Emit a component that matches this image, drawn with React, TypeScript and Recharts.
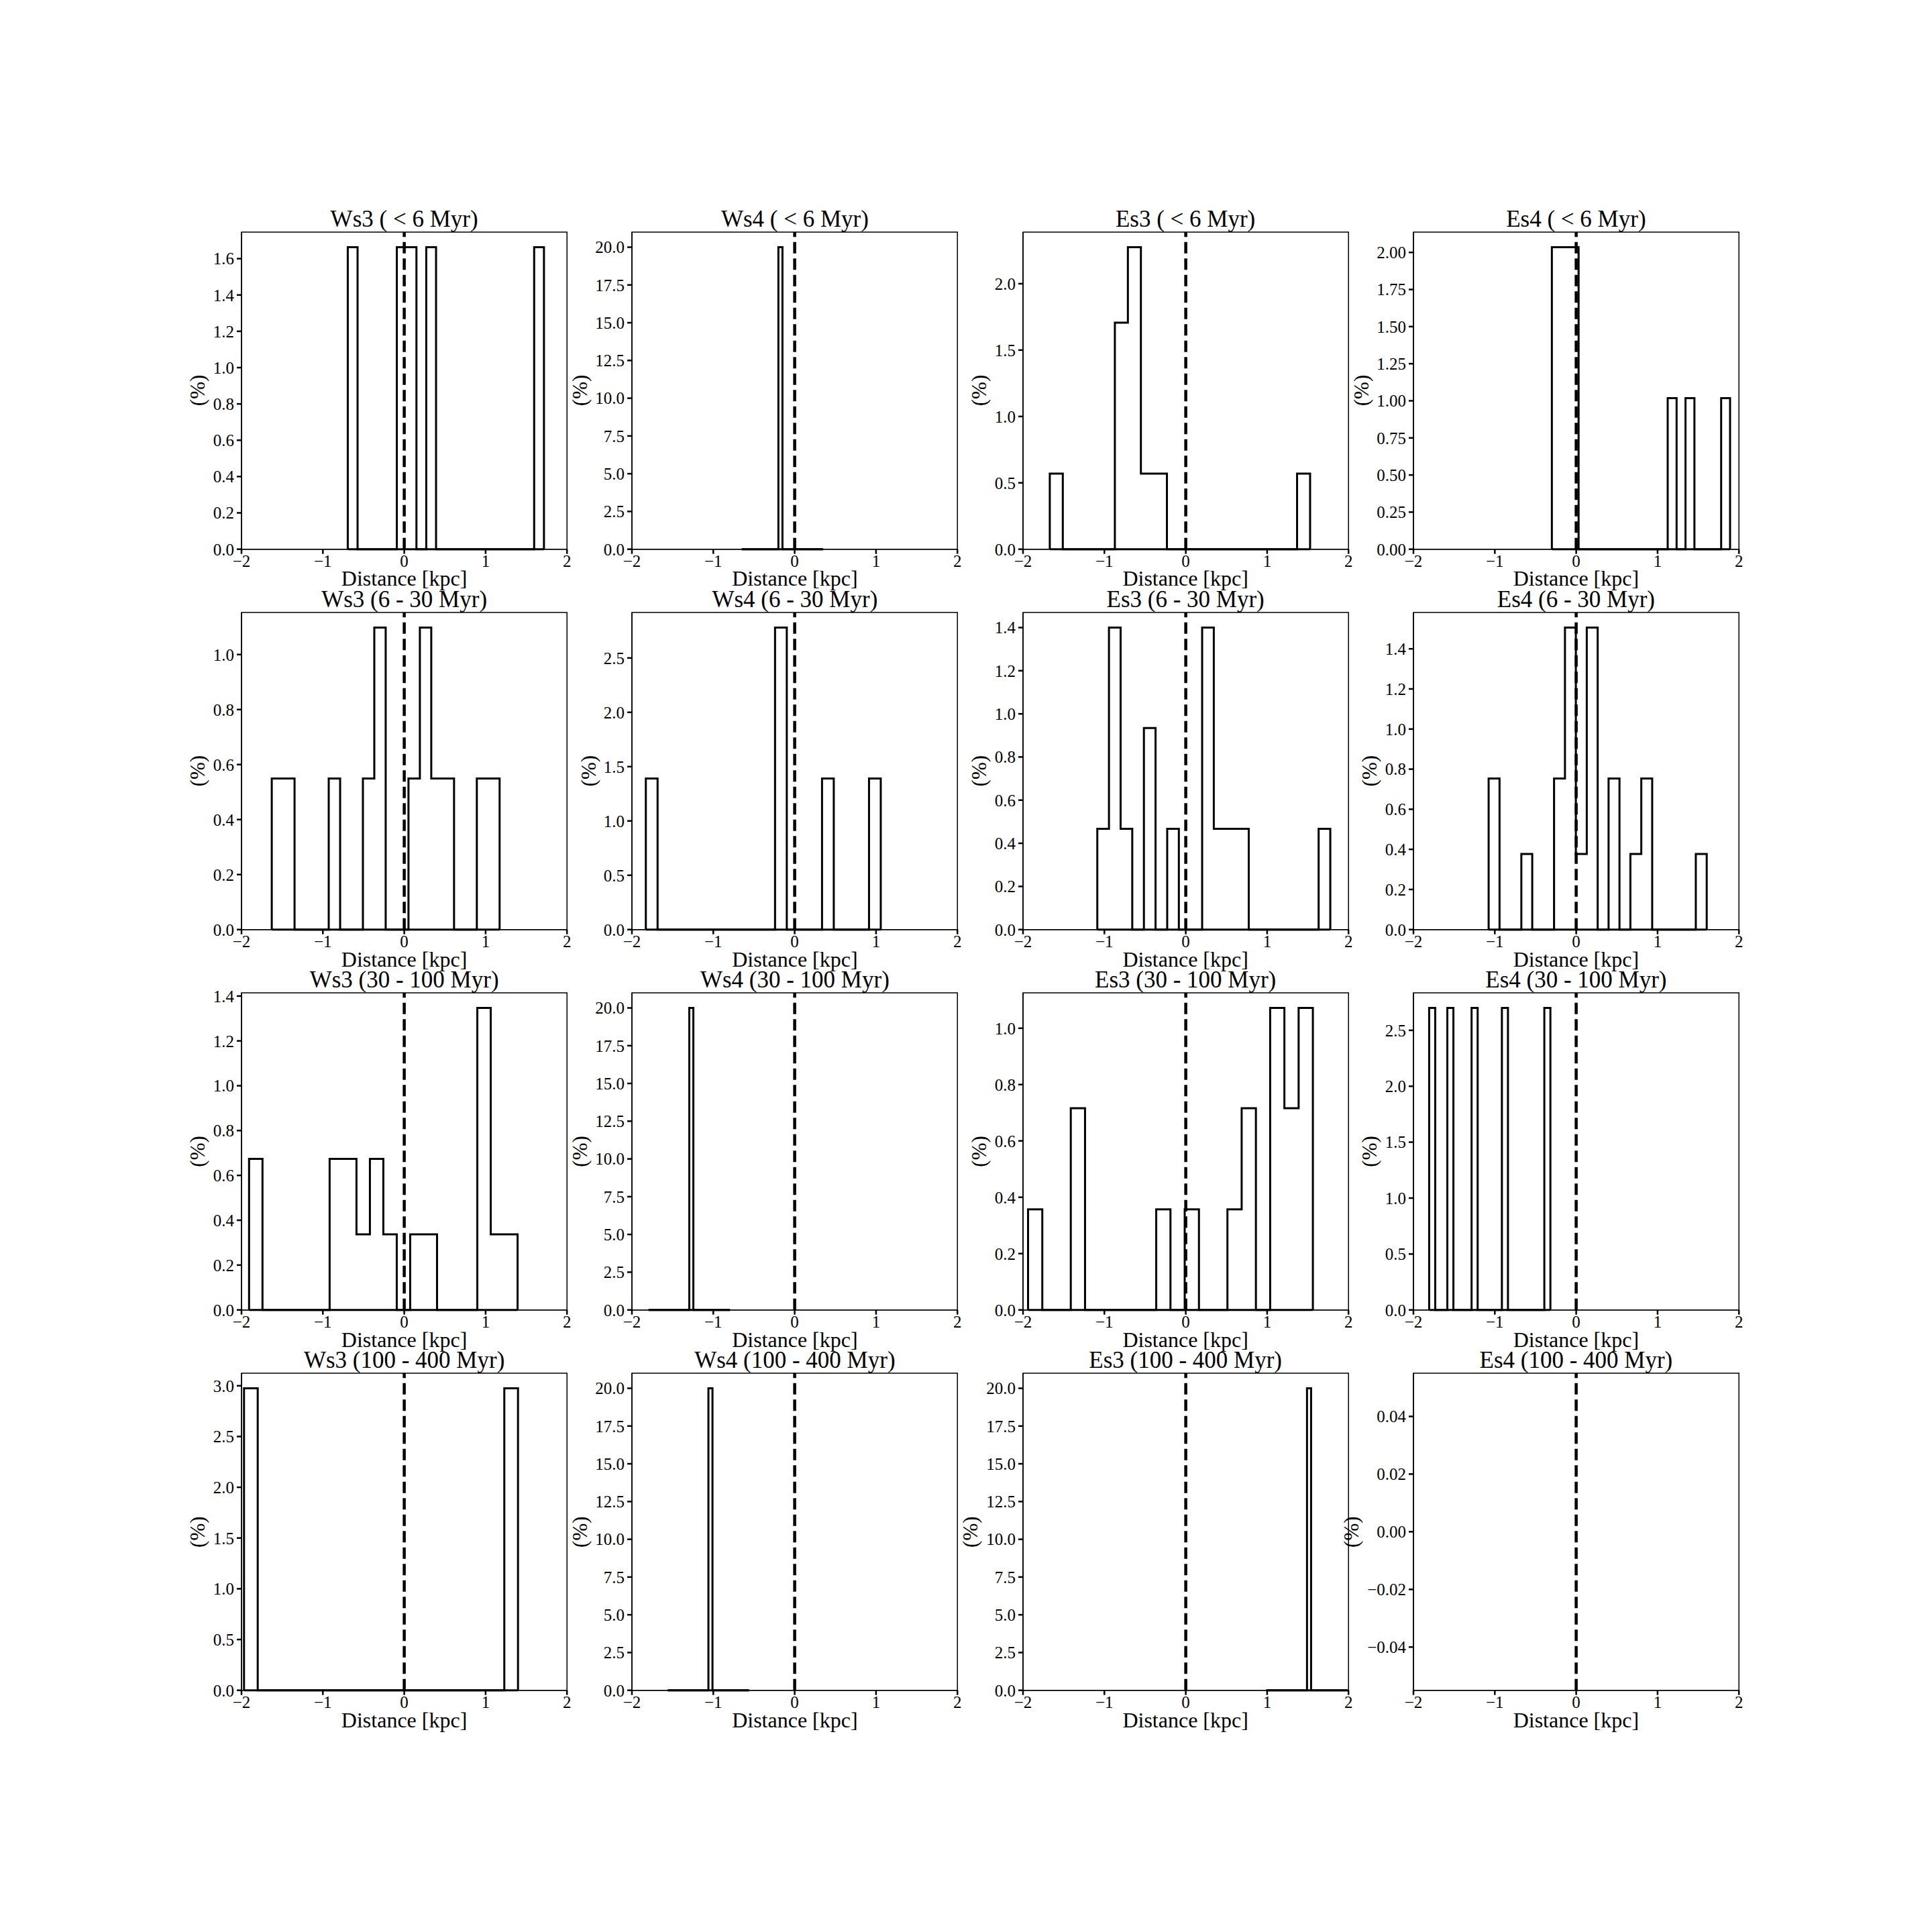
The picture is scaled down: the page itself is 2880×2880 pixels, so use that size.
import React from 'react';
import { LineChart, Line, XAxis, YAxis, ReferenceLine, ReferenceArea } from 'recharts';

// panel titles
const regions = ['Ws3', 'Ws4', 'Es3', 'Es4'];
const ageLabels = ['( < 6 Myr)', '(6 - 30 Myr)', '(30 - 100 Myr)', '(100 - 400 Myr)'];
const distanceTicks = [-2, -1, 0, 1, 2];

// histogram bin range [first edge, last edge] and 20 bin heights (%)
const ws3Lt6Range = [-0.694, 1.717];
const ws3Lt6 = [1.663, 0, 0, 0, 0, 1.663, 1.663, 0, 1.663, 0, 0, 0, 0, 0, 0, 0, 0, 0, 0, 1.663];
const ws4Lt6Range = [-0.65, 0.35];
const ws4Lt6 = [0, 0, 0, 0, 0, 0, 0, 0, 0, 20, 0, 0, 0, 0, 0, 0, 0, 0, 0, 0];
const es3Lt6Range = [-1.671, 1.528];
const es3Lt6 = [0.569, 0, 0, 0, 0, 1.706, 2.275, 0.569, 0.569, 0, 0, 0, 0, 0, 0, 0, 0, 0, 0, 0.569];
const es4Lt6Range = [-0.299, 1.891];
const es4Lt6 = [2.035, 2.035, 2.035, 0, 0, 0, 0, 0, 0, 0, 0, 0, 0, 1.018, 0, 1.018, 0, 0, 0, 1.018];

const ws3_6_30Range = [-1.628, 1.172];
const ws3_6_30 = [0.549, 0.549, 0, 0, 0, 0.549, 0, 0, 0.549, 1.098, 0, 0, 0.549, 1.098, 0.549, 0.549, 0, 0, 0.549, 0.549];
const ws4_6_30Range = [-1.829, 1.058];
const ws4_6_30 = [1.39, 0, 0, 0, 0, 0, 0, 0, 0, 0, 0, 2.78, 0, 0, 0, 1.39, 0, 0, 0, 1.39];
const es3_6_30Range = [-1.087, 1.776];
const es3_6_30 = [0.467, 1.4, 0.467, 0, 0.934, 0, 0.467, 0, 0, 1.4, 0.467, 0.467, 0.467, 0, 0, 0, 0, 0, 0, 0.467];
const es4_6_30Range = [-1.076, 1.604];
const es4_6_30 = [0.753, 0, 0, 0.377, 0, 0, 0.753, 1.506, 0.377, 1.506, 0, 0.753, 0, 0.377, 0.753, 0, 0, 0, 0, 0.377];

const ws3_30_100Range = [-1.907, 1.393];
const ws3_30_100 = [0.674, 0, 0, 0, 0, 0, 0.674, 0.674, 0.337, 0.674, 0.337, 0, 0.337, 0.337, 0, 0, 0, 1.347, 0.337, 0.337];
const ws4_30_100Range = [-1.795, -0.795];
const ws4_30_100 = [0, 0, 0, 0, 0, 0, 0, 0, 0, 0, 20, 0, 0, 0, 0, 0, 0, 0, 0, 0];
const es3_30_100Range = [-1.938, 1.562];
const es3_30_100 = [0.357, 0, 0, 0.716, 0, 0, 0, 0, 0, 0.357, 0, 0.357, 0, 0, 0.357, 0.716, 0, 1.072, 0.716, 1.072];
const es4_30_100Range = [-1.807, -0.317];
const es4_30_100 = [2.7, 0, 0, 2.7, 0, 0, 0, 2.7, 0, 0, 0, 0, 2.7, 0, 0, 0, 0, 0, 0, 2.7];

const ws3_100_400Range = [-1.969, 1.398];
const ws3_100_400 = [2.975, 0, 0, 0, 0, 0, 0, 0, 0, 0, 0, 0, 0, 0, 0, 0, 0, 0, 0, 2.975];
const ws4_100_400Range = [-1.56, -0.56];
const ws4_100_400 = [0, 0, 0, 0, 0, 0, 0, 0, 0, 0, 20, 0, 0, 0, 0, 0, 0, 0, 0, 0];
const es3_100_400Range = [0.99, 1.99];
const es3_100_400 = [0, 0, 0, 0, 0, 0, 0, 0, 0, 0, 20, 0, 0, 0, 0, 0, 0, 0, 0, 0];
// Es4 (100 - 400 Myr) has no stars

// y tick sets
const ticks16 = [0, 0.2, 0.4, 0.6, 0.8, 1.0, 1.2, 1.4, 1.6];
const ticks20 = [0, 2.5, 5, 7.5, 10, 12.5, 15, 17.5, 20];
const ticks2 = [0, 0.5, 1, 1.5, 2];
const ticks2q = [0, 0.25, 0.5, 0.75, 1, 1.25, 1.5, 1.75, 2];
const ticks10 = [0, 0.2, 0.4, 0.6, 0.8, 1.0];
const ticks25 = [0, 0.5, 1, 1.5, 2, 2.5];
const ticks14 = [0, 0.2, 0.4, 0.6, 0.8, 1.0, 1.2, 1.4];
const ticks30 = [0, 0.5, 1, 1.5, 2, 2.5, 3];
const ticksEmpty = [-0.04, -0.02, 0, 0.02, 0.04];

interface Panel {
  range: number[] | null;
  heights: number[] | null;
  ticks: number[];
  decimals: number;
}

// row = age bin, column = region
const panels: Panel[] = [
  { range: ws3Lt6Range, heights: ws3Lt6, ticks: ticks16, decimals: 1 },
  { range: ws4Lt6Range, heights: ws4Lt6, ticks: ticks20, decimals: 1 },
  { range: es3Lt6Range, heights: es3Lt6, ticks: ticks2, decimals: 1 },
  { range: es4Lt6Range, heights: es4Lt6, ticks: ticks2q, decimals: 2 },
  { range: ws3_6_30Range, heights: ws3_6_30, ticks: ticks10, decimals: 1 },
  { range: ws4_6_30Range, heights: ws4_6_30, ticks: ticks25, decimals: 1 },
  { range: es3_6_30Range, heights: es3_6_30, ticks: ticks14, decimals: 1 },
  { range: es4_6_30Range, heights: es4_6_30, ticks: ticks14, decimals: 1 },
  { range: ws3_30_100Range, heights: ws3_30_100, ticks: ticks14, decimals: 1 },
  { range: ws4_30_100Range, heights: ws4_30_100, ticks: ticks20, decimals: 1 },
  { range: es3_30_100Range, heights: es3_30_100, ticks: ticks10, decimals: 1 },
  { range: es4_30_100Range, heights: es4_30_100, ticks: ticks25, decimals: 1 },
  { range: ws3_100_400Range, heights: ws3_100_400, ticks: ticks30, decimals: 1 },
  { range: ws4_100_400Range, heights: ws4_100_400, ticks: ticks20, decimals: 1 },
  { range: es3_100_400Range, heights: es3_100_400, ticks: ticks20, decimals: 1 },
  { range: null, heights: null, ticks: ticksEmpty, decimals: 2 },
];

// figure geometry (matplotlib subplot params on a 2880px figure)
const FIG = 2880;
const left = 0.125 * FIG;
const right = 0.9 * FIG;
const top = 0.12 * FIG;
const bottom = 0.875 * FIG;
const plotW = (right - left) / 4.6;
const plotH = (bottom - top) / 4.6;
const colX = (c: number) => left + c * plotW * 1.2;
const rowY = (r: number) => top + r * plotH * 1.2;

const FONT = '"Liberation Serif", "Times New Roman", serif';
const TICK_FS = 25;
const PAD_L = 150;
const PAD_T = 20;
const PAD_R = 20;
const AXIS_H = 60;

const minus = (s: string) => s.replace('-', '\u2212');

// step outline: up at first edge, across each bin, down at last edge
const stepPoints = (range: number[], heights: number[]) => {
  const w = (range[1] - range[0]) / heights.length;
  const pts: { x: number; y: number | null }[] = [{ x: range[0], y: 0 }];
  heights.forEach((h, i) => pts.push({ x: range[0] + i * w, y: h }));
  pts.push({ x: range[1], y: 0 });
  return pts;
};

const labelWidth = (s: string) =>
  s.split('').reduce((acc, ch) => acc + (ch === '.' ? 0.25 : ch === '\u2212' ? 0.564 : 0.5), 0) * TICK_FS;

const HistPanel: React.FC<{ p: Panel }> = ({ p }) => {
  const empty = !(p.range && p.heights);
  // empty panel: only the tick positions anchor the x axis, nothing is drawn
  const data = !empty
    ? stepPoints(p.range as number[], p.heights as number[])
    : distanceTicks.map((x) => ({ x, y: null }));
  const yDomain = !empty ? [0, Math.max(...(p.heights as number[])) * 1.05] : [-0.055, 0.055];
  const base = !empty ? [{ x: (p.range as number[])[0], y: 0 }, { x: (p.range as number[])[1], y: 0 }] : [];
  return (
    <LineChart
      width={PAD_L + plotW + PAD_R}
      height={PAD_T + plotH + AXIS_H}
      data={data}
      margin={{ top: PAD_T, right: PAD_R, bottom: 0, left: 0 }}
    >
      <XAxis
        type="number"
        dataKey="x"
        domain={[-2, 2]}
        ticks={distanceTicks}
        interval={0}
        height={AXIS_H}
        tickSize={7}
        tickMargin={2}
        tickFormatter={(v: number) => minus(String(v))}
        axisLine={{ stroke: '#000', strokeWidth: 1.5 }}
        tickLine={{ stroke: '#000', strokeWidth: 2.5 }}
        tick={{ fontSize: TICK_FS, fill: '#000', fontFamily: FONT }}
      />
      <YAxis
        type="number"
        domain={yDomain}
        allowDataOverflow={empty}
        ticks={p.ticks}
        interval={0}
        width={PAD_L}
        tickSize={7}
        tickMargin={4}
        tickFormatter={(v: number) => minus(v.toFixed(p.decimals))}
        axisLine={{ stroke: '#000', strokeWidth: 1.5 }}
        tickLine={{ stroke: '#000', strokeWidth: 2.5 }}
        tick={{ fontSize: TICK_FS, fill: '#000', fontFamily: FONT }}
      />
      <ReferenceArea
        x1={-2}
        x2={2}
        y1={yDomain[0]}
        y2={yDomain[1]}
        fill="none"
        stroke="#000"
        strokeWidth={1.5}
      />
      {!empty && (
        <Line data={base} dataKey="y" type="linear" stroke="#000" strokeWidth={3}
          dot={false} activeDot={false} isAnimationActive={false} />
      )}
      <Line dataKey="y" type="stepAfter" stroke="#000" strokeWidth={3}
        dot={false} activeDot={false} isAnimationActive={false} />
      <ReferenceLine x={0} stroke="#000" strokeWidth={4.5} strokeDasharray="17 7.5" />
    </LineChart>
  );
};

const App: React.FC = () => {
  return (
    <div style={{ position: 'absolute', left: 0, top: 0, width: FIG, height: FIG, background: '#fff', fontFamily: FONT }}>
      {panels.map((p, i) => {
        const r = Math.floor(i / 4);
        const c = i % 4;
        return (
          <div key={`panel-${i}`} style={{ position: 'absolute', left: colX(c) - PAD_L, top: rowY(r) - PAD_T }}>
            <HistPanel p={p} />
          </div>
        );
      })}
      <svg width={FIG} height={FIG} style={{ position: 'absolute', left: 0, top: 0, pointerEvents: 'none' }}>
        {panels.map((p, i) => {
          const r = Math.floor(i / 4);
          const c = i % 4;
          const cx = colX(c) + plotW / 2;
          const y0 = rowY(r);
          const widest = Math.max(...p.ticks.map((t) => labelWidth(minus(t.toFixed(p.decimals)))));
          const lx = colX(c) - widest - 34;
          const ly = y0 + plotH / 2;
          return (
            <g key={`text-${i}`} fontFamily={FONT} fill="#000">
              <text x={cx} y={y0 - 8} textAnchor="middle" fontSize={35}>
                {`${regions[c]} ${ageLabels[r]}`}
              </text>
              <text x={cx} y={y0 + plotH + 55} textAnchor="middle" fontSize={32}>
                Distance [kpc]
              </text>
              <text x={lx} y={ly} textAnchor="middle" dominantBaseline="central" fontSize={31}
                transform={`rotate(-90 ${lx} ${ly})`}>
                (%)
              </text>
            </g>
          );
        })}
      </svg>
    </div>
  );
};

export default App;
